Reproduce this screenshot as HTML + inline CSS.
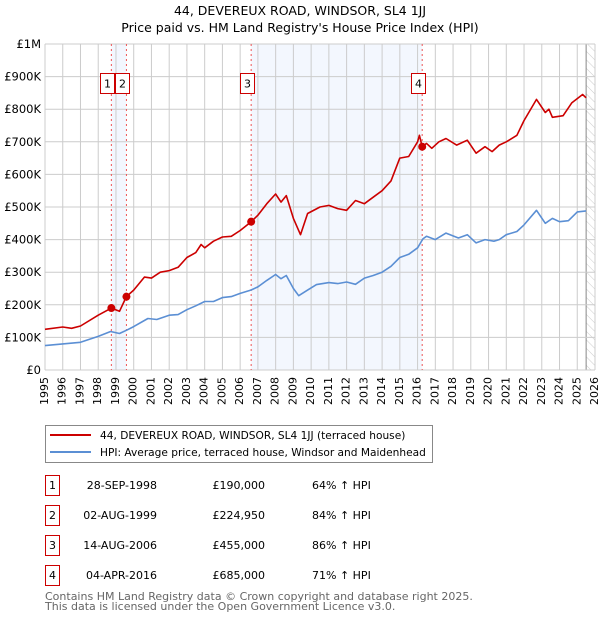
<!DOCTYPE html>
<html><head><meta charset="utf-8"><style>
body{margin:0;background:#fff;width:600px;height:620px;overflow:hidden;font-family:"DejaVu Sans","Liberation Sans",sans-serif}
svg text{font-family:"DejaVu Sans","Liberation Sans",sans-serif}
</style></head><body>
<svg id="chart" width="600" height="620" xmlns="http://www.w3.org/2000/svg">
<defs><pattern id="hatch" width="6" height="6" patternUnits="userSpaceOnUse" patternTransform="rotate(-45)"><line x1="0" y1="0" x2="0" y2="6" stroke="#ccc" stroke-width="1"/></pattern></defs>
<text x="300" y="15" text-anchor="middle" font-size="12.5">44, DEVEREUX ROAD, WINDSOR, SL4 1JJ</text>
<text x="300" y="32" text-anchor="middle" font-size="12.5">Price paid vs. HM Land Registry's House Price Index (HPI)</text>
<g id="bands"></g><g id="grid"></g><g id="axes"></g><g id="series"></g><g id="markers"></g>
<g>
<rect x="45.5" y="425.5" width="387" height="37" fill="#fff" stroke="#888"/>
<line x1="50" y1="435" x2="91" y2="435" stroke="#cc0000" stroke-width="2"/>
<text x="100" y="439" font-size="10.6">44, DEVEREUX ROAD, WINDSOR, SL4 1JJ (terraced house)</text>
<line x1="50" y1="452" x2="91" y2="452" stroke="#5b8fd4" stroke-width="2"/>
<text x="100" y="456" font-size="10.6">HPI: Average price, terraced house, Windsor and Maidenhead</text>
</g>
<g id="table"></g>
<text x="45" y="600" font-size="11" fill="#666">Contains HM Land Registry data © Crown copyright and database right 2025.</text>
<text x="45" y="610" font-size="11" fill="#666">This data is licensed under the Open Government Licence v3.0.</text>
</svg>
<script>
const years=[1995,1996,1997,1998,1999,2000,2001,2002,2003,2004,2005,2006,2007,2008,2009,2010,2011,2012,2013,2014,2015,2016,2017,2018,2019,2020,2021,2022,2023,2024,2025,2026];
const yTicks=[0,100,200,300,400,500,600,700,800,900,1000];
const yTickLabels=["£0","£100K","£200K","£300K","£400K","£500K","£600K","£700K","£800K","£900K","£1M"];
const hpiT=[1995,1996,1997,1998,1998.7,1999.2,1999.6,2000,2000.8,2001.3,2002,2002.5,2003,2003.5,2004,2004.5,2005,2005.5,2006,2006.6,2007,2007.5,2008,2008.3,2008.6,2009,2009.3,2009.8,2010.3,2011,2011.5,2012,2012.5,2013,2013.5,2014,2014.5,2015,2015.5,2016,2016.3,2016.5,2017,2017.6,2018.3,2018.8,2019.3,2019.8,2020.3,2020.6,2021,2021.6,2022,2022.7,2023.2,2023.6,2024,2024.5,2025,2025.5];
const hpiV=[75,80,85,103,118,112,122,133,158,155,168,170,185,197,210,210,222,225,235,245,255,275,293,280,290,250,228,245,262,268,265,270,263,282,290,300,318,345,355,375,402,410,400,420,405,415,390,400,395,400,415,425,445,490,450,465,455,458,485,488];
const priceT=[1995,1996,1996.5,1997,1998,1998.74,1999.2,1999.59,2000,2000.6,2001,2001.5,2002,2002.5,2003,2003.5,2003.8,2004,2004.5,2005,2005.5,2006,2006.62,2007,2007.5,2008,2008.3,2008.6,2009,2009.4,2009.8,2010.5,2011,2011.5,2012,2012.5,2013,2013.5,2014,2014.5,2015,2015.5,2016,2016.1,2016.26,2016.5,2016.8,2017.2,2017.6,2018.2,2018.8,2019.3,2019.8,2020.2,2020.6,2021,2021.6,2022,2022.7,2023.2,2023.4,2023.6,2024.2,2024.7,2025.3,2025.5];
const priceV=[125,132,128,135,168,190,180,225,245,285,282,300,305,315,345,360,385,375,395,408,410,428,455,475,510,540,515,535,465,415,480,500,505,495,490,520,510,530,550,580,650,655,700,720,685,695,680,700,710,690,705,665,685,670,690,700,720,765,830,790,800,775,780,820,845,835];
const saleT=[1998.74,1999.59,2006.62,2016.26];
const saleV=[190,224.95,455,685];
const saleLabels=["1","2","3","4"];
const saleDates=["28-SEP-1998","02-AUG-1999","14-AUG-2006","04-APR-2016"];
const salePrices=["£190,000","£224,950","£455,000","£685,000"];
const saleHpi=["64% ↑ HPI","84% ↑ HPI","86% ↑ HPI","71% ↑ HPI"];
const forecastStart=2025.5;

const X0=45,X1=595,Y0=370,Y1=44;
const x=t=>X0+(t-1995)/(2026-1995)*(X1-X0);
const y=v=>Y0-v/1000*(Y0-Y1);
const NS="http://www.w3.org/2000/svg";
function mk(tag,attrs,parent,txt){const e=document.createElementNS(NS,tag);for(const k in attrs)e.setAttribute(k,attrs[k]);if(txt!==undefined)e.textContent=txt;parent.appendChild(e);return e;}
const bands=document.getElementById('bands'),grid=document.getElementById('grid'),axes=document.getElementById('axes'),series=document.getElementById('series'),markers=document.getElementById('markers'),table=document.getElementById('table');
for(const [a,b] of [[0,1],[2,3]]){const r=mk('rect',{x:x(saleT[a]),y:Y1,width:x(saleT[b])-x(saleT[a]),height:Y0-Y1,fill:'#eef3fd',opacity:0.7},bands);

}
const h=mk('rect',{x:x(forecastStart),y:Y1,width:X1-x(forecastStart),height:Y0-Y1,fill:'url(#hatch)'},bands);


mk('line',{x1:x(forecastStart),y1:Y1,x2:x(forecastStart),y2:Y0,stroke:'#888'},bands);
years.forEach(t=>{const l=mk('line',{x1:x(t),y1:Y1,x2:x(t),y2:Y0,stroke:'#ccc'},grid);


const tx=mk('text',{x:x(t),y:Y0+7,'font-size':11,transform:`rotate(-90 ${x(t)} ${Y0+7})`,'text-anchor':'end','dominant-baseline':'middle'},axes,String(t));

});
yTicks.forEach((v,i)=>{const l=mk('line',{x1:X0,y1:y(v),x2:X1,y2:y(v),stroke:'#ccc'},grid);


const tx=mk('text',{x:X0-4,y:y(v)+4,'font-size':11.5,'text-anchor':'end'},axes,yTickLabels[i]);

});
saleT.forEach((t,i)=>{const l=mk('line',{x1:x(t),y1:Y1,x2:x(t),y2:Y0,stroke:'#ee5555','stroke-dasharray':'2,3'},grid);


const g=mk('g',{},markers);


const bxx=Math.round(x(t)-11)+0.5;
mk('rect',{x:bxx,y:73.5,width:14,height:20,fill:'#fff',stroke:'#cc0000'},g);
mk('text',{x:bxx+7,y:87.5,'font-size':11,'text-anchor':'middle'},g,saleLabels[i]);});
function path(T,V,color,name){const d=T.map((t,i)=>(i?'L':'M')+x(t).toFixed(1)+','+y(V[i]).toFixed(1)).join('');
const p=mk('path',{d:d,fill:'none',stroke:color,'stroke-width':1.6,'stroke-linejoin':'round'},series);

}
path(hpiT,hpiV,'#5b8fd4','hpi-line');
path(priceT,priceV,'#cc0000','price-line');
saleT.forEach((t,i)=>{const c=mk('circle',{cx:x(t),cy:y(saleV[i]),r:4,fill:'#cc0000'},markers);

});
saleT.forEach((t,i)=>{const yy=475+i*30;
const g=mk('g',{},table);


mk('rect',{x:45.5,y:yy+0.5,width:14,height:20,fill:'#fff',stroke:'#cc0000'},g);
mk('text',{x:52.5,y:yy+14,'font-size':11,'text-anchor':'middle'},g,saleLabels[i]);
mk('text',{x:157,y:yy+14,'font-size':11,'text-anchor':'end'},g,saleDates[i]);
mk('text',{x:265,y:yy+14,'font-size':11,'text-anchor':'end'},g,salePrices[i]);
mk('text',{x:312,y:yy+14,'font-size':11},g,saleHpi[i]);});
</script>
</body></html>
